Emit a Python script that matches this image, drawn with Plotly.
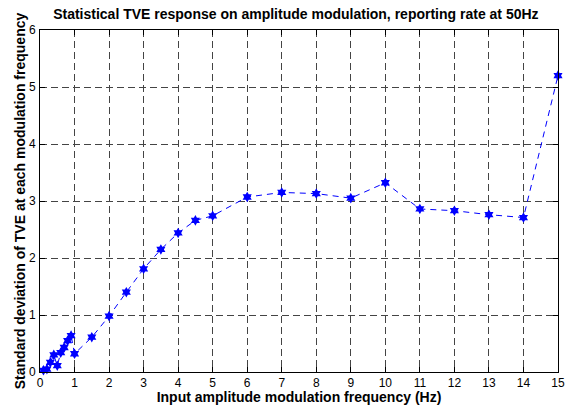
import plotly.graph_objects as go

# Frequências de modulação (Hz) e desvio padrão do TVE
freq_hz = [0.1, 0.2, 0.3, 0.4, 0.5, 0.6, 0.7, 0.8, 0.9, 1.0,
           1.5, 2, 2.5, 3, 3.5, 4, 4.5, 5,
           6, 7, 8, 9, 10, 11, 12, 13, 14, 15]
tve_std = [0.03, 0.05, 0.17, 0.30, 0.11, 0.34, 0.43, 0.55, 0.64, 0.32,
           0.61, 0.98, 1.40, 1.81, 2.15, 2.44, 2.66, 2.74,
           3.07, 3.15, 3.13, 3.05, 3.32, 2.86, 2.83, 2.76, 2.71, 5.20]

x_ticks = list(range(0, 16))
y_ticks = list(range(0, 7))

fig = go.Figure()

fig.add_trace(go.Scatter(
    x=freq_hz,
    y=tve_std,
    mode='lines+markers',
    line=dict(color='blue', width=1, dash='6px,5px'),
    marker=dict(symbol='hexagram', size=8, color='blue'),
    showlegend=False,
    cliponaxis=False
))

# Eixos estilo MATLAB
axis_common = dict(
    showline=True,
    linecolor='black',
    linewidth=1,
    mirror='ticks',
    ticks='inside',
    ticklen=5,
    tickcolor='black',
    showgrid=True,
    gridcolor='#444444',
    gridwidth=1,
    griddash='7px,4px',
    zeroline=False,
    tickfont=dict(family='Liberation Sans, Arial', size=12, color='black'),
)

fig.update_xaxes(
    range=[0, 15],
    tickvals=x_ticks,
    ticklabelstandoff=0,
    automargin=True,
    title=dict(text='<b>Input amplitude modulation frequency (Hz)</b>',
               font=dict(family='Liberation Sans, Arial', size=14, color='black'),
               standoff=1),
    **axis_common
)
fig.update_yaxes(
    range=[0, 6],
    tickvals=y_ticks,
    ticklabelstandoff=1,
    automargin=False,
    title=dict(text='<b>Standard deviation of TVE at each modulation frequency</b>',
               font=dict(family='Liberation Sans, Arial', size=14, color='black'),
               standoff=0),
    **axis_common
)

fig.update_layout(
    width=569,
    height=405,
    margin=dict(l=40, r=11, t=30, b=33, autoexpand=False),
    title=dict(text='<b>Statistical TVE response on amplitude modulation, reporting rate at 50Hz</b>',
               font=dict(family='Liberation Sans, Arial', size=14, color='black'),
               x=0.52, xanchor='center', y=1 - 14 / 405, yanchor='middle'),
    plot_bgcolor='white',
    paper_bgcolor='white',
)

# tira a margem padrão do body para a figura ficar alinhada à janela
fig.write_html("out.html",
               config={'displayModeBar': False},
               post_script="document.body.style.margin='0';")
